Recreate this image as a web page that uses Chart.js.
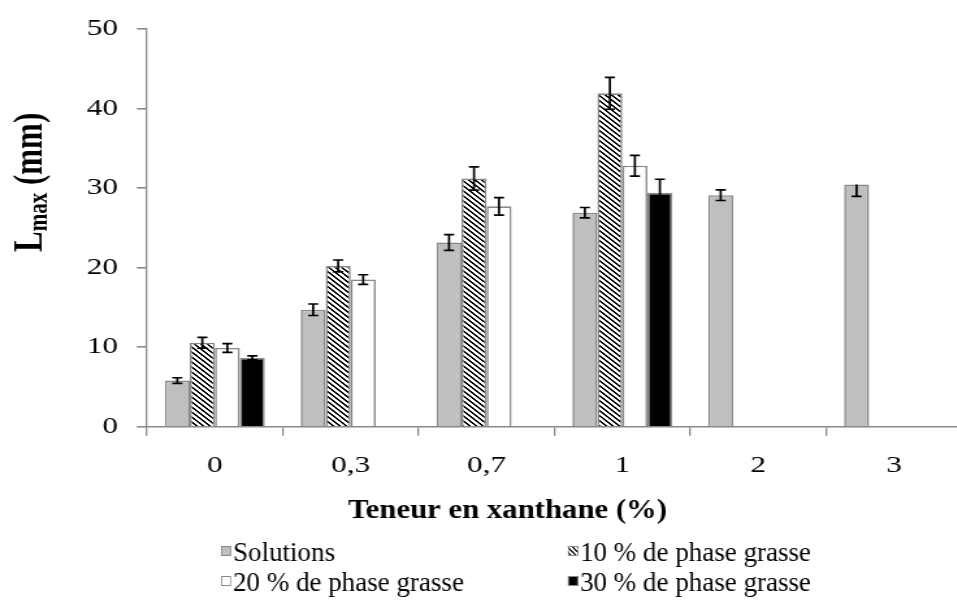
<!DOCTYPE html>
<html><head><meta charset="utf-8">
<script src="https://cdn.jsdelivr.net/npm/chart.js@4"></script>
<style>
html,body{margin:0;padding:0;background:#fff;}
#outer{position:relative;width:957px;height:603px;overflow:hidden;background:#fff;}
#inner{position:absolute;left:0;top:0;width:740px;height:603px;transform:scaleX(1.3);transform-origin:0 0;}
</style></head>
<body>
<div id="outer"><div id="inner"><canvas id="c" width="740" height="603"></canvas></div></div>
<script>
// ---- data ----
const categories = ['0', '0,3', '0,7', '1', '2', '3'];
const seriesLabels = ['Solutions', '10 % de phase grasse', '20 % de phase grasse', '30 % de phase grasse'];
const solutions = [5.8, 14.7, 23.15, 26.9, 29.1, 30.45];
const solutionsErrPlus = [0.35, 0.72, 1.0, 0.65, 0.67, 0];
const solutionsErrMinus = [0.35, 0.72, 1.0, 0.65, 0.67, 1.5];
const phase10 = [10.55, 20.2, 31.2, 41.9, null, null];
const phase10Err = [0.68, 0.75, 1.47, 2.0, null, null];
const phase20 = [9.9, 18.5, 27.7, 32.8, null, null];
const phase20Err = [0.55, 0.6, 1.1, 1.3, null, null];
const phase30 = [8.65, null, null, 29.4, null, null];
const phase30Err = [0.25, null, null, 1.7, null, null];
const yTicks = [0, 10, 20, 30, 40, 50];
const xTitle = 'Teneur en xanthane (%)';
const yTitleMain = 'L', yTitleSub = 'max', yTitleRest = ' (mm)';

const SX = 1.3;
const canvas = document.getElementById('c');
const ctx = canvas.getContext('2d');

function makeHatch() {
  const n = 5;
  const t = document.createElement('canvas');
  t.width = n; t.height = n;
  const g = t.getContext('2d');
  g.fillStyle = '#fff'; g.fillRect(0, 0, n, n);
  g.fillStyle = '#000';
  for (let y = 0; y < n; y++) for (let x = 0; x < n; x++) {
    if (((x - y) % n + n) % n < 2) g.fillRect(x, y, 1, 1);
  }
  return ctx.createPattern(t, 'repeat');
}
const hatch = makeHatch();
const edge = '#898989';
const fills = ['#bfbfbf', hatch, '#ffffff', '#000000'];

const errorBars = {
  id: 'errorBars',
  afterDatasetsDraw(chart) {
    const c = chart.ctx, ys = chart.scales.y;
    chart.data.datasets.forEach((ds, di) => {
      const meta = chart.getDatasetMeta(di);
      ds.data.forEach((v, i) => {
        if (v == null) return;
        const up = ds.errPlus[i] || 0, dn = ds.errMinus[i] || 0;
        const x = meta.data[i].x;
        const yt = ys.getPixelForValue(v + up), yb = ys.getPixelForValue(v - dn);
        c.save();
        c.strokeStyle = '#000'; c.lineWidth = 1.7;
        c.beginPath();
        c.moveTo(x, yt); c.lineTo(x, yb);
        if (up > 0) { c.moveTo(x - 3.9, yt); c.lineTo(x + 3.9, yt); }
        if (dn > 0) { c.moveTo(x - 3.9, yb); c.lineTo(x + 3.9, yb); }
        c.stroke();
        c.restore();
      });
    });
  }
};

const texts = {
  id: 'texts',
  afterDraw(chart) {
    const c = chart.ctx;
    // y title (rotated, with subscript)
    c.save();
    c.fillStyle = '#000';
    c.textBaseline = 'alphabetic'; c.textAlign = 'left';
    c.translate(31.5, 252);
    c.rotate(-Math.PI / 2);
    c.font = 'bold 31px "Liberation Serif"';
    const wL = c.measureText(yTitleMain).width;
    c.fillText(yTitleMain, 0, 0);
    c.font = 'bold 21px "Liberation Serif"';
    const wS = c.measureText(yTitleSub).width;
    c.fillText(yTitleSub, wL, 4);
    c.font = 'bold 31px "Liberation Serif"';
    c.fillText(yTitleRest, wL + wS, 0);
    c.restore();

    // x title (screen coordinates)
    c.save();
    c.scale(1 / SX, 1);
    c.translate(507.5, 517.5);
    c.scale(1.16, 1);
    c.font = 'bold 26.5px "Liberation Serif"';
    c.fillStyle = '#000';
    c.textAlign = 'center'; c.textBaseline = 'alphabetic';
    c.fillText(xTitle, 0, 0);
    c.restore();

    // legend (screen coordinates)
    c.save();
    c.scale(1 / SX, 1);
    c.font = '27px "Liberation Serif"';
    c.textAlign = 'left'; c.textBaseline = 'alphabetic';
    const pos = [[221, 561], [568, 561], [221, 591], [568, 591]];
    chart.data.datasets.forEach((ds, i) => {
      const [bx, by] = pos[i];
      c.fillStyle = fills[i];
      c.fillRect(bx, by - 15, 10, 10);
      c.strokeStyle = edge; c.lineWidth = 1;
      c.strokeRect(bx + 0.5, by - 14.5, 9, 9);
      c.fillStyle = '#000';
      c.fillText(ds.label, bx + 12, by);
    });
    c.restore();
  }
};

new Chart(ctx, {
  type: 'bar',
  data: {
    labels: categories,
    datasets: [
      { label: seriesLabels[0], data: solutions, errPlus: solutionsErrPlus, errMinus: solutionsErrMinus, backgroundColor: fills[0] },
      { label: seriesLabels[1], data: phase10, errPlus: phase10Err, errMinus: phase10Err, backgroundColor: fills[1] },
      { label: seriesLabels[2], data: phase20, errPlus: phase20Err, errMinus: phase20Err, backgroundColor: fills[2] },
      { label: seriesLabels[3], data: phase30, errPlus: phase30Err, errMinus: phase30Err, backgroundColor: fills[3] }
    ]
  },
  options: {
    responsive: false,
    animation: false,
    devicePixelRatio: 1,
    layout: { padding: { top: 20, left: 0, right: 0, bottom: 0 } },
    datasets: { bar: { categoryPercentage: 0.736, barPercentage: 1, borderColor: edge, borderWidth: 1.6 } },
    plugins: { legend: { display: false }, tooltip: { enabled: false }, title: { display: false } },
    scales: {
      x: {
        offset: true,
        grid: { offset: true, drawOnChartArea: false, drawTicks: true, tickLength: 9, color: edge, lineWidth: 1.3 },
        border: { color: edge, width: 1.6 },
        ticks: { color: '#000', font: { family: "'Liberation Serif'", size: 24 }, padding: 16, maxRotation: 0, autoSkip: false },
        afterFit(s) { s.height = 176.3; }
      },
      y: {
        min: 0, max: 50,
        afterBuildTicks(s) { s.ticks = yTicks.map(v => ({ value: v })); },
        grid: { drawOnChartArea: false, drawTicks: true, tickLength: 7.7, color: edge, lineWidth: 1.6 },
        border: { color: edge, width: 1.3 },
        ticks: { color: '#000', font: { family: "'Liberation Serif'", size: 24 }, padding: 14.5 },
        afterFit(s) { s.width = 113; }
      }
    }
  },
  plugins: [errorBars, texts]
});
</script>
</body></html>
